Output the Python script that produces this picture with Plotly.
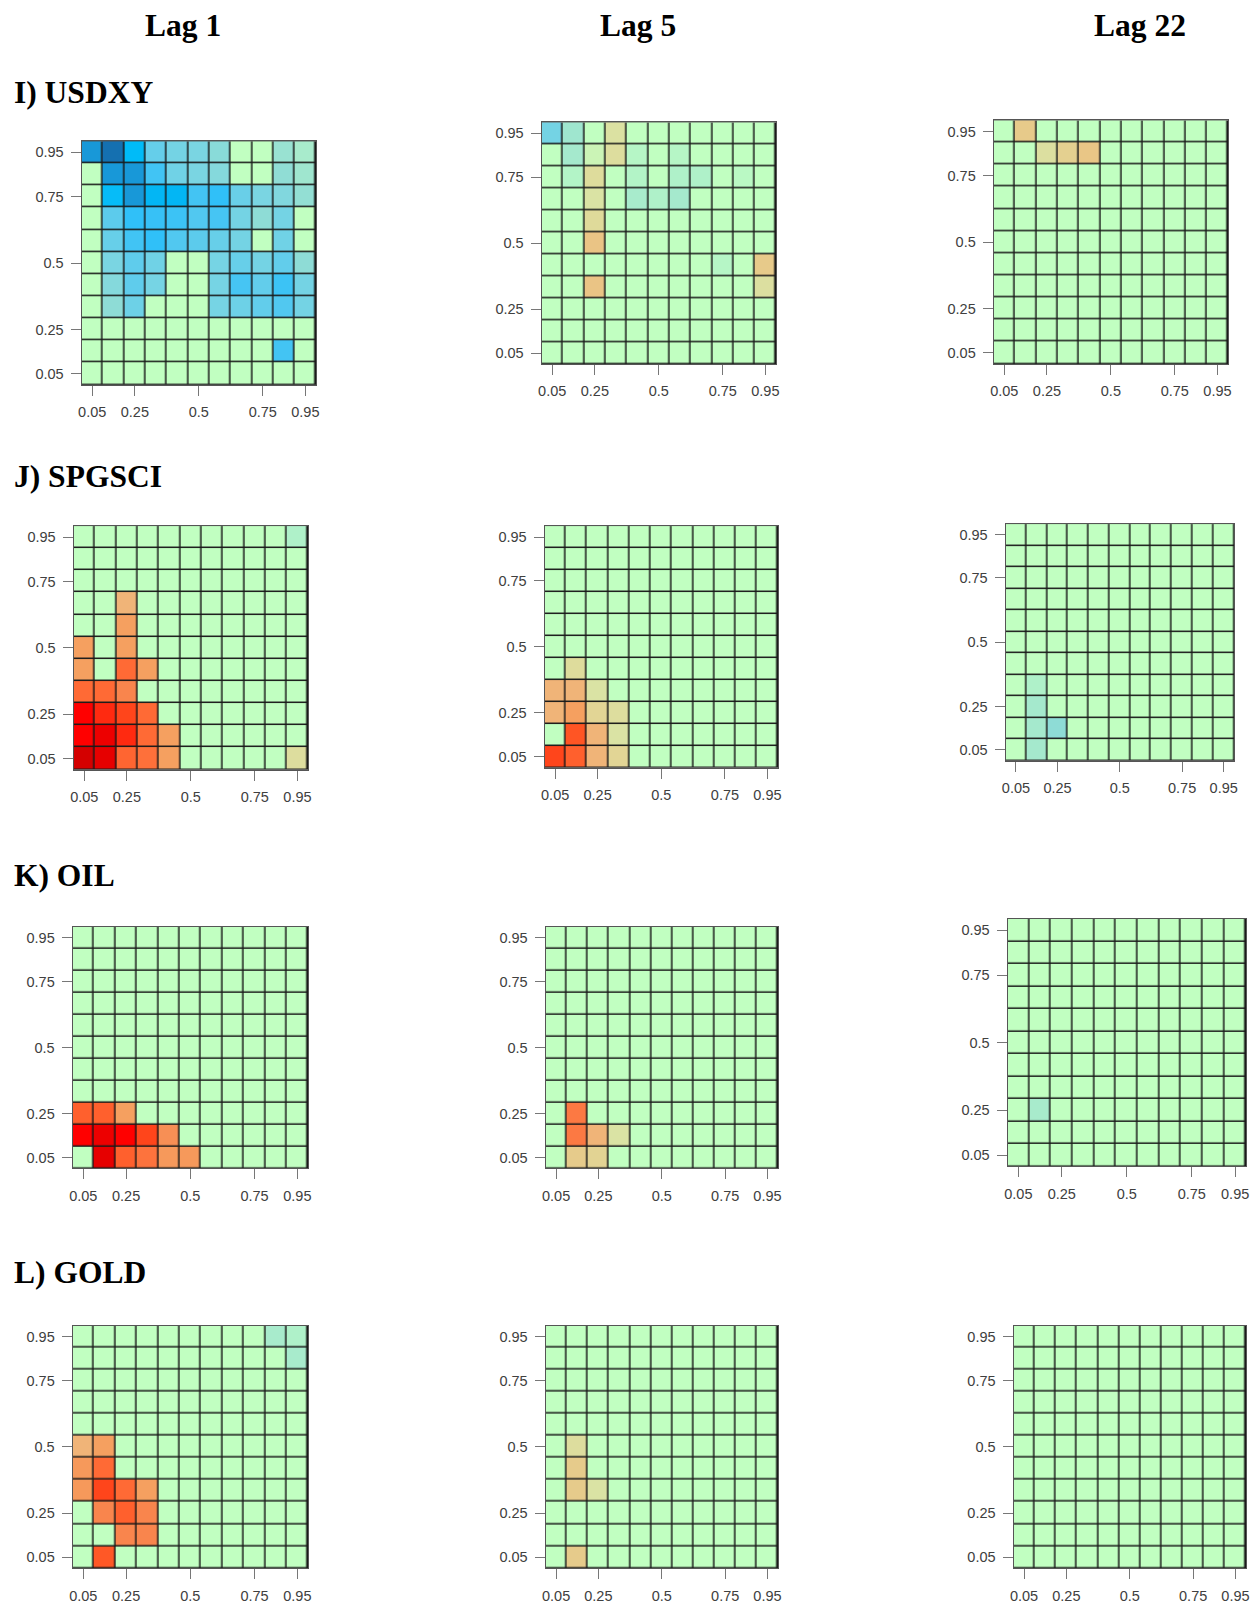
import plotly.graph_objects as go

PAGE_W, PAGE_H = 1258, 1612
BODY_MARGIN = 8  # the html body keeps its default 8px margin
W, H = PAGE_W - 2 * BODY_MARGIN, PAGE_H - 2 * BODY_MARGIN

# quantile labels shown on both axes and the cell index they sit on
tau_labels = ["0.05", "0.25", "0.5", "0.75", "0.95"]
tau_tick_pos = [0, 2, 5, 8, 10]
cells = list(range(11))
rows_top_down = list(range(10, -1, -1))

lags = ["Lag 1", "Lag 5", "Lag 22"]
assets = ["I) USDXY", "J) SPGSCI", "K) OIL", "L) GOLD"]

# quantilogram values, each list is one row of cells from 0.95 (top) down to 0.05
# 0 = not significant (green), negative = blue, positive = red
usdxy_lag1 = [
    [-0.85, -1.0, -0.7, -0.35, -0.28, -0.25, -0.18, 0, 0, -0.12, -0.07],
    [0, -0.85, -0.85, -0.48, -0.3, -0.25, -0.2, 0, 0, -0.15, -0.1],
    [0, -0.68, -0.85, -0.72, -0.72, -0.47, -0.55, -0.33, -0.25, -0.22, -0.14],
    [0, -0.38, -0.55, -0.52, -0.5, -0.42, -0.46, -0.28, -0.16, -0.28, 0],
    [0, -0.34, -0.48, -0.55, -0.42, -0.38, -0.34, -0.28, 0, -0.3, 0],
    [0, -0.25, -0.37, -0.3, 0, 0, -0.27, -0.34, -0.28, -0.36, -0.16],
    [0, -0.2, -0.37, -0.27, 0, 0, -0.27, -0.46, -0.36, -0.5, -0.28],
    [0, -0.16, -0.31, 0, 0, 0, -0.27, -0.31, -0.36, -0.42, -0.28],
    [0, 0, 0, 0, 0, 0, 0, 0, 0, 0, 0],
    [0, 0, 0, 0, 0, 0, 0, 0, 0, -0.47, 0],
    [0, 0, 0, 0, 0, 0, 0, 0, 0, 0, 0],
]
usdxy_lag5 = [
    [-0.28, -0.1, 0, 0.1, 0, 0, 0, 0, 0, 0, 0],
    [0, -0.08, 0.03, 0.12, -0.03, 0, -0.03, 0, 0, 0, 0],
    [0, -0.04, 0.13, 0, -0.04, 0, -0.05, -0.05, 0, -0.02, 0],
    [0, 0, 0.09, 0, -0.07, -0.05, -0.08, 0, 0, 0, 0],
    [0, 0, 0.14, 0, 0, 0, 0, 0, 0, 0, 0],
    [0, 0, 0.27, 0, 0, 0, 0, 0, 0, 0, 0],
    [0, 0, 0, 0, 0, 0, 0, 0, -0.03, 0, 0.24],
    [0, 0, 0.27, 0, 0, 0, 0, 0, 0, 0, 0.11],
    [0, 0, 0, 0, 0, 0, 0, 0, 0, 0, 0],
    [0, 0, 0, 0, 0, 0, 0, 0, 0, 0, 0],
    [0, 0, 0, 0, 0, 0, 0, 0, 0, 0, 0],
]
usdxy_lag22 = [
    [0, 0.24, 0, 0, 0, 0, 0, 0, 0, 0, 0],
    [0, 0, 0.11, 0.2, 0.26, 0, 0, 0, 0, 0, 0],
    [0, 0, 0, 0, 0, 0, 0, 0, 0, 0, 0],
    [0, 0, 0, 0, 0, 0, 0, 0, 0, 0, 0],
    [0, 0, 0, 0, 0, 0, 0, 0, 0, 0, 0],
    [0, 0, 0, 0, 0, 0, 0, 0, 0, 0, 0],
    [0, 0, 0, 0, 0, 0, 0, 0, 0, 0, 0],
    [0, 0, 0, 0, 0, 0, 0, 0, 0, 0, 0],
    [0, 0, 0, 0, 0, 0, 0, 0, 0, 0, 0],
    [0, 0, 0, 0, 0, 0, 0, 0, 0, 0, 0],
    [0, 0, 0, 0, 0, 0, 0, 0, 0, 0, 0],
]
spgsci_lag1 = [
    [0, 0, 0, 0, 0, 0, 0, 0, 0, 0, -0.05],
    [0, 0, 0, 0, 0, 0, 0, 0, 0, 0, 0],
    [0, 0, 0, 0, 0, 0, 0, 0, 0, 0, 0],
    [0, 0, 0.35, 0, 0, 0, 0, 0, 0, 0, 0],
    [0, 0, 0.45, 0, 0, 0, 0, 0, 0, 0, 0],
    [0.45, 0, 0.45, 0, 0, 0, 0, 0, 0, 0, 0],
    [0.45, 0, 0.65, 0.45, 0, 0, 0, 0, 0, 0, 0],
    [0.65, 0.65, 0.56, 0, 0, 0, 0, 0, 0, 0, 0],
    [0.93, 0.85, 0.78, 0.65, 0, 0, 0, 0, 0, 0, 0],
    [0.93, 0.96, 0.85, 0.65, 0.45, 0, 0, 0, 0, 0, 0],
    [1.0, 0.97, 0.67, 0.63, 0.45, 0, 0, 0, 0, 0, 0.12],
]
spgsci_lag5 = [
    [0, 0, 0, 0, 0, 0, 0, 0, 0, 0, 0],
    [0, 0, 0, 0, 0, 0, 0, 0, 0, 0, 0],
    [0, 0, 0, 0, 0, 0, 0, 0, 0, 0, 0],
    [0, 0, 0, 0, 0, 0, 0, 0, 0, 0, 0],
    [0, 0, 0, 0, 0, 0, 0, 0, 0, 0, 0],
    [0, 0, 0, 0, 0, 0, 0, 0, 0, 0, 0],
    [0, 0.13, 0, 0, 0, 0, 0, 0, 0, 0, 0],
    [0.35, 0.35, 0.09, 0, 0, 0, 0, 0, 0, 0, 0],
    [0.35, 0.45, 0.17, 0.12, 0, 0, 0, 0, 0, 0, 0],
    [0, 0.73, 0.35, 0.09, 0, 0, 0, 0, 0, 0, 0],
    [0.78, 0.69, 0.35, 0.17, 0, 0, 0, 0, 0, 0, 0],
]
spgsci_lag22 = [
    [0, 0, 0, 0, 0, 0, 0, 0, 0, 0, 0],
    [0, 0, 0, 0, 0, 0, 0, 0, 0, 0, 0],
    [0, 0, 0, 0, 0, 0, 0, 0, 0, 0, 0],
    [0, 0, 0, 0, 0, 0, 0, 0, 0, 0, 0],
    [0, 0, 0, 0, 0, 0, 0, 0, 0, 0, 0],
    [0, 0, 0, 0, 0, 0, 0, 0, 0, 0, 0],
    [0, 0, 0, 0, 0, 0, 0, 0, 0, 0, 0],
    [0, -0.05, 0, 0, 0, 0, 0, 0, 0, 0, 0],
    [0, -0.08, 0, 0, 0, 0, 0, 0, 0, 0, 0],
    [0, -0.08, -0.16, 0, 0, 0, 0, 0, 0, 0, 0],
    [0, -0.08, 0, 0, 0, 0, 0, 0, 0, 0, 0],
]
oil_lag1 = [
    [0, 0, 0, 0, 0, 0, 0, 0, 0, 0, 0],
    [0, 0, 0, 0, 0, 0, 0, 0, 0, 0, 0],
    [0, 0, 0, 0, 0, 0, 0, 0, 0, 0, 0],
    [0, 0, 0, 0, 0, 0, 0, 0, 0, 0, 0],
    [0, 0, 0, 0, 0, 0, 0, 0, 0, 0, 0],
    [0, 0, 0, 0, 0, 0, 0, 0, 0, 0, 0],
    [0, 0, 0, 0, 0, 0, 0, 0, 0, 0, 0],
    [0, 0, 0, 0, 0, 0, 0, 0, 0, 0, 0],
    [0.69, 0.69, 0.45, 0, 0, 0, 0, 0, 0, 0, 0],
    [0.93, 0.96, 0.93, 0.78, 0.52, 0, 0, 0, 0, 0, 0],
    [0, 0.97, 0.69, 0.62, 0.48, 0.48, 0, 0, 0, 0, 0],
]
oil_lag5 = [
    [0, 0, 0, 0, 0, 0, 0, 0, 0, 0, 0],
    [0, 0, 0, 0, 0, 0, 0, 0, 0, 0, 0],
    [0, 0, 0, 0, 0, 0, 0, 0, 0, 0, 0],
    [0, 0, 0, 0, 0, 0, 0, 0, 0, 0, 0],
    [0, 0, 0, 0, 0, 0, 0, 0, 0, 0, 0],
    [0, 0, 0, 0, 0, 0, 0, 0, 0, 0, 0],
    [0, 0, 0, 0, 0, 0, 0, 0, 0, 0, 0],
    [0, 0, 0, 0, 0, 0, 0, 0, 0, 0, 0],
    [0, 0.6, 0, 0, 0, 0, 0, 0, 0, 0, 0],
    [0, 0.6, 0.35, 0.09, 0, 0, 0, 0, 0, 0, 0],
    [0, 0.23, 0.18, 0, 0, 0, 0, 0, 0, 0, 0],
]
oil_lag22 = [
    [0, 0, 0, 0, 0, 0, 0, 0, 0, 0, 0],
    [0, 0, 0, 0, 0, 0, 0, 0, 0, 0, 0],
    [0, 0, 0, 0, 0, 0, 0, 0, 0, 0, 0],
    [0, 0, 0, 0, 0, 0, 0, 0, 0, 0, 0],
    [0, 0, 0, 0, 0, 0, 0, 0, 0, 0, 0],
    [0, 0, 0, 0, 0, 0, 0, 0, 0, 0, 0],
    [0, 0, 0, 0, 0, 0, 0, 0, 0, 0, 0],
    [0, 0, 0, 0, 0, 0, 0, 0, 0, 0, 0],
    [0, -0.07, 0, 0, 0, 0, 0, 0, 0, 0, 0],
    [0, 0, 0, 0, 0, 0, 0, 0, 0, 0, 0],
    [0, 0, 0, 0, 0, 0, 0, 0, 0, 0, 0],
]
gold_lag1 = [
    [0, 0, 0, 0, 0, 0, 0, 0, 0, -0.07, -0.05],
    [0, 0, 0, 0, 0, 0, 0, 0, 0, 0, -0.07],
    [0, 0, 0, 0, 0, 0, 0, 0, 0, 0, 0],
    [0, 0, 0, 0, 0, 0, 0, 0, 0, 0, 0],
    [0, 0, 0, 0, 0, 0, 0, 0, 0, 0, 0],
    [0.35, 0.45, 0, 0, 0, 0, 0, 0, 0, 0, 0],
    [0.48, 0.65, 0, 0, 0, 0, 0, 0, 0, 0, 0],
    [0.48, 0.78, 0.65, 0.45, 0, 0, 0, 0, 0, 0, 0],
    [0, 0.56, 0.69, 0.56, 0, 0, 0, 0, 0, 0, 0],
    [0, 0, 0.56, 0.56, 0, 0, 0, 0, 0, 0, 0],
    [0, 0.72, 0, 0, 0, 0, 0, 0, 0, 0, 0],
]
gold_lag5 = [
    [0, 0, 0, 0, 0, 0, 0, 0, 0, 0, 0],
    [0, 0, 0, 0, 0, 0, 0, 0, 0, 0, 0],
    [0, 0, 0, 0, 0, 0, 0, 0, 0, 0, 0],
    [0, 0, 0, 0, 0, 0, 0, 0, 0, 0, 0],
    [0, 0, 0, 0, 0, 0, 0, 0, 0, 0, 0],
    [0, 0.12, 0, 0, 0, 0, 0, 0, 0, 0, 0],
    [0, 0.23, 0, 0, 0, 0, 0, 0, 0, 0, 0],
    [0, 0.23, 0.09, 0, 0, 0, 0, 0, 0, 0, 0],
    [0, 0, 0, 0, 0, 0, 0, 0, 0, 0, 0],
    [0, 0, 0, 0, 0, 0, 0, 0, 0, 0, 0],
    [0, 0.23, 0, 0, 0, 0, 0, 0, 0, 0, 0],
]
gold_lag22 = [
    [0, 0, 0, 0, 0, 0, 0, 0, 0, 0, 0],
    [0, 0, 0, 0, 0, 0, 0, 0, 0, 0, 0],
    [0, 0, 0, 0, 0, 0, 0, 0, 0, 0, 0],
    [0, 0, 0, 0, 0, 0, 0, 0, 0, 0, 0],
    [0, 0, 0, 0, 0, 0, 0, 0, 0, 0, 0],
    [0, 0, 0, 0, 0, 0, 0, 0, 0, 0, 0],
    [0, 0, 0, 0, 0, 0, 0, 0, 0, 0, 0],
    [0, 0, 0, 0, 0, 0, 0, 0, 0, 0, 0],
    [0, 0, 0, 0, 0, 0, 0, 0, 0, 0, 0],
    [0, 0, 0, 0, 0, 0, 0, 0, 0, 0, 0],
    [0, 0, 0, 0, 0, 0, 0, 0, 0, 0, 0],
]

panels = [
    usdxy_lag1, usdxy_lag5, usdxy_lag22,
    spgsci_lag1, spgsci_lag5, spgsci_lag22,
    oil_lag1, oil_lag5, oil_lag22,
    gold_lag1, gold_lag5, gold_lag22,
]

# plot boxes in page pixels (left, right, top, bottom) - the panels were pasted so they differ a bit
boxes = [
    (78, 314, 142, 387), (541, 777, 123, 366), (996, 1232, 121, 366),
    (70, 306, 529, 774), (544, 779, 529, 772), (1008, 1238, 527, 765),
    (69, 306, 932, 1175), (545, 779, 932, 1175), (1010, 1250, 924, 1173),
    (69, 306, 1333, 1577), (545, 779, 1333, 1577), (1016, 1250, 1333, 1577),
]


def px_x(x):
    return min(1.0, max(0.0, (x - BODY_MARGIN) / W))


def px_y(y):
    return min(1.0, max(0.0, 1 - (y - BODY_MARGIN) / H))


# blue (negative) -> green (0) -> red (positive)
color_stops = [
    (-1.0, "#1570b0"), (-0.85, "#1898d8"), (-0.7, "#00bbf8"), (-0.55, "#30c0f8"),
    (-0.45, "#48c5f2"), (-0.35, "#65ceea"), (-0.25, "#7ad5e2"), (-0.15, "#90ddd5"),
    (-0.07, "#a8ebcc"), (0.0, "#c1ffc1"), (0.07, "#d8e6a8"), (0.15, "#e0d898"),
    (0.25, "#e8c888"), (0.35, "#f0b478"), (0.45, "#f5a060"), (0.55, "#f88850"),
    (0.65, "#ff6a35"), (0.75, "#ff5020"), (0.85, "#ff2a10"), (0.93, "#ff0000"),
    (1.0, "#d40000"),
]
colorscale = [[(v + 1) / 2, c] for v, c in color_stops]

fig = go.Figure()

tick_font = dict(family="Liberation Sans, Arial, sans-serif", size=14.5, color="#404040")

for i, (z, box) in enumerate(zip(panels, boxes)):
    n = "" if i == 0 else str(i + 1)
    l, r, t, b = box
    fig.add_trace(go.Heatmap(
        z=z, x=cells, y=rows_top_down,
        zmin=-1, zmax=1,
        colorscale=colorscale,
        showscale=False,
        xgap=1.5, ygap=1.5,
        hoverinfo="skip",
        xaxis="x" + n, yaxis="y" + n,
    ))
    axis_common = dict(
        range=[-0.5, 10.5],
        tickvals=tau_tick_pos,
        ticktext=tau_labels,
        ticks="outside",
        ticklen=10,
        tickwidth=1,
        tickcolor="#777777",
        tickfont=tick_font,
        ticklabelstandoff=4,
        showgrid=False,
        zeroline=False,
        showline=True,
        mirror=True,
        linecolor="#555555",
        linewidth=1,
        fixedrange=True,
    )
    fig.layout["xaxis" + n] = dict(
        axis_common,
        domain=[px_x(l), px_x(r)],
        anchor="y" + n,
    )
    fig.layout["yaxis" + n] = dict(
        axis_common,
        domain=[px_y(b), px_y(t)],
        anchor="x" + n,
    )

title_font = dict(family="Liberation Serif, Times New Roman, serif", size=31.5, color="black")

lag_x = [180, 638, 1143]
for name, x in zip(lags, lag_x):
    fig.add_annotation(
        text="<b>" + name + "</b>", x=px_x(x), y=px_y(26),
        xref="paper", yref="paper", showarrow=False,
        xanchor="center", yanchor="middle", font=title_font,
    )

asset_y = [93, 479, 880, 1280]
for name, y in zip(assets, asset_y):
    fig.add_annotation(
        text="<b>" + name + "</b>", x=px_x(7), y=px_y(y),
        xref="paper", yref="paper", showarrow=False,
        xanchor="left", yanchor="middle", font=title_font,
    )

fig.update_layout(
    width=W, height=H,
    margin=dict(l=0, r=0, t=0, b=0),
    paper_bgcolor="white",
    plot_bgcolor="#1a1a1a",
    showlegend=False,
)

fig.write_html("out.html")
